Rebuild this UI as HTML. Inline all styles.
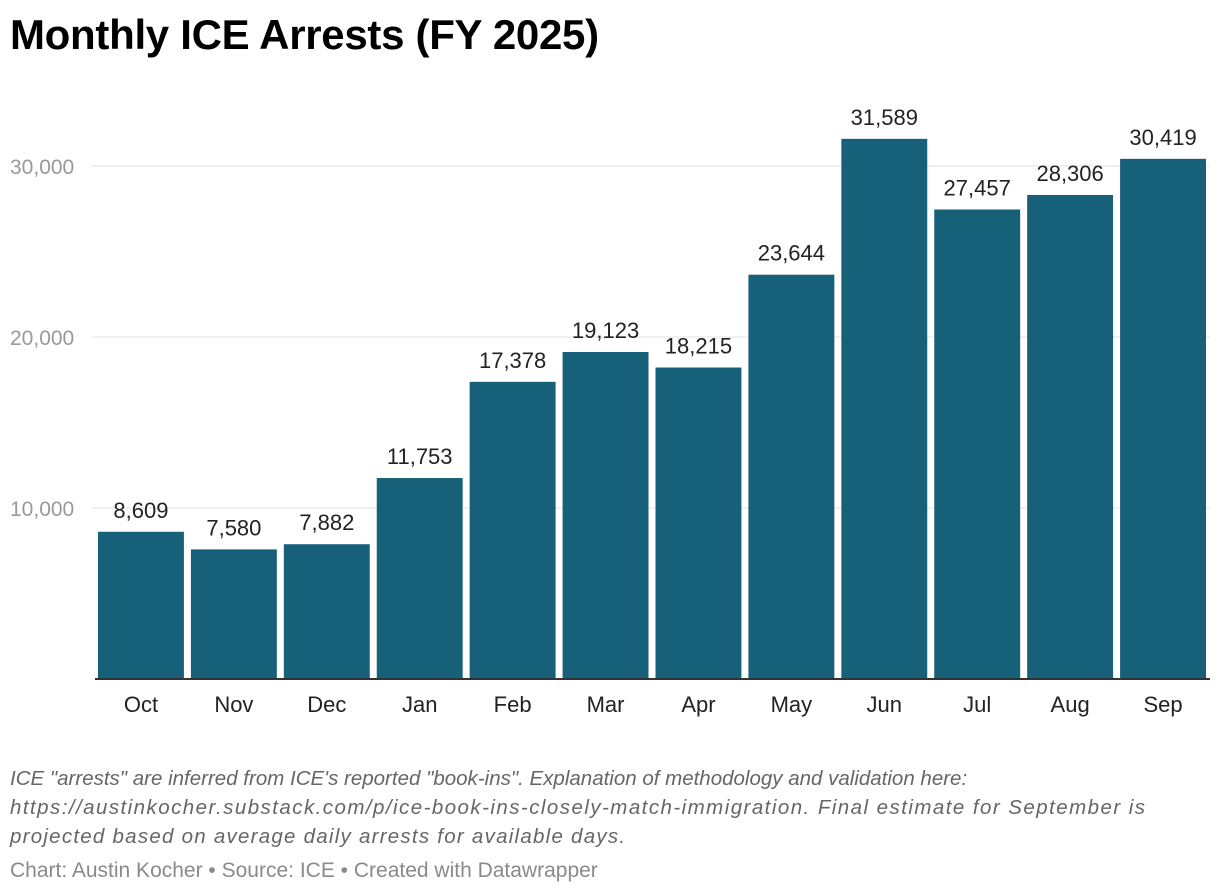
<!DOCTYPE html>
<html><head><meta charset="utf-8">
<style>
body{margin:0;background:#fff;width:1220px;height:894px;overflow:hidden;font-family:"Liberation Sans",sans-serif;}
#title{position:absolute;left:10px;top:11px;font-size:42px;font-weight:bold;color:#000;letter-spacing:-0.3px;margin:0}
#note{position:absolute;left:10px;top:764px;width:1200px;font-size:20.5px;font-style:italic;color:#666;line-height:29px;white-space:nowrap}
#note span{display:block}
#note .w{letter-spacing:1.45px}
#note .w3{letter-spacing:1.25px}
#credit{position:absolute;left:10px;top:859px;font-size:21px;color:#8a8a8a}
svg{position:absolute;left:0;top:0}
</style></head><body>
<h1 id="title">Monthly ICE Arrests (FY 2025)</h1>
<svg id="chart" width="1220" height="760"></svg>
<div id="note"><span>ICE "arrests" are inferred from ICE's reported "book-ins". Explanation of methodology and validation here:</span><span class="w">https://austinkocher.substack.com/p/ice-book-ins-closely-match-immigration. Final estimate for September is</span><span class="w3">projected based on average daily arrests for available days.</span></div>
<div id="credit">Chart: Austin Kocher • Source: ICE • Created with Datawrapper</div>
<script>
const categories=["Oct","Nov","Dec","Jan","Feb","Mar","Apr","May","Jun","Jul","Aug","Sep"];
const values=[8609,7580,7882,11753,17378,19123,18215,23644,31589,27457,28306,30419];
const valueLabels=["8,609","7,580","7,882","11,753","17,378","19,123","18,215","23,644","31,589","27,457","28,306","30,419"];
const ticks=[10000,20000,30000];
const tickLabels=["10,000","20,000","30,000"];
const NS="http://www.w3.org/2000/svg";
const svg=document.getElementById('chart');
const x0=95,x1=1210,base=679,pxPer=171/10000;
const band=(x1-x0)/categories.length,gap=7;
const y=v=>base-v*pxPer;
const xb=i=>x0+i*band+3;
function mk(t,a){const e=document.createElementNS(NS,t);for(const k in a)e.setAttribute(k,a[k]);svg.appendChild(e);return e;}
ticks.forEach((t,i)=>{
 const l=mk('line',{x1:92,x2:x1,y1:y(t),y2:y(t),stroke:'#e0e0e0','stroke-width':1});
 
 
 const tx=mk('text',{x:10,y:y(t)+8,'font-size':21,fill:'#999'});
 tx.textContent=tickLabels[i];
 
 
});
categories.forEach((c,i)=>{
 const w=band-gap,xx=xb(i);
 const r=mk('rect',{x:xx,y:y(values[i]),width:w,height:values[i]*pxPer,fill:'#17607a'});
 
 
 const v=mk('text',{x:xx+w/2,y:y(values[i])-14,'font-size':22,fill:'#222','text-anchor':'middle'});
 v.textContent=valueLabels[i];
 
 
 const m=mk('text',{x:xx+w/2,y:712,'font-size':22,fill:'#222','text-anchor':'middle'});
 m.textContent=c;
 
 
});
const ax=mk('line',{x1:x0,x2:x1,y1:base,y2:base,stroke:'#333','stroke-width':2});


</script>
</body></html>
